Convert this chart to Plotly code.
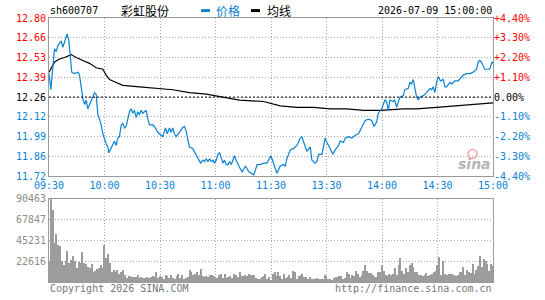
import plotly.graph_objects as go

# ---------------- data ----------------
prev_close = 12.26
stock_code = "sh600707"
stock_name = "彩虹股份"
timestamp = "2026-07-09 15:00:00"

time_ticks = [0, 30, 60, 90, 120, 150, 180, 210, 240]
time_labels = ["09:30", "10:00", "10:30", "11:00", "11:30", "13:30", "14:00", "14:30", "15:00"]

pct_levels = [-4.40, -3.30, -2.20, -1.10, 0.00, 1.10, 2.20, 3.30, 4.40]
price_labels = ["11.72", "11.86", "11.99", "12.12", "12.26", "12.39", "12.53", "12.66", "12.80"]
pct_labels = ["-4.40%", "-3.30%", "-2.20%", "-1.10%", "0.00%", "+1.10%", "+2.20%", "+3.30%", "+4.40%"]

vol_ticks = [22616, 45231, 67847, 90463]
vol_labels = ["22616", "45231", "67847", "90463"]

# minute of session (0 = 09:30, 120 = 11:30/13:00, 240 = 15:00)
price_minutes = [
    0, 1, 2.1, 3.0, 3.9, 4.8, 5.7, 6.6, 7.5, 8.4, 9.3, 9.8, 10.7, 11.4, 12.3, 13.8, 15.6, 16.5,
    17.4, 18.3, 19.2, 20.1, 21.0, 21.9, 22.8, 23.7, 24.6, 25.5, 26.4, 27.3, 28.2, 29.1, 30.0,
    30.9, 31.8, 32.3, 33.1, 34.1, 35.4, 36.3, 37.2, 38.1, 39.0, 39.9, 40.8, 41.7, 42.6, 43.5,
    44.4, 45.3, 46.2, 47.1, 48.0, 48.9, 49.8, 50.7, 51.6, 52.5, 53.4, 54.3, 56.1, 57.0, 58.8,
    60.6, 61.5, 63.0, 63.9, 65.1, 66.0, 66.9, 67.8, 68.7, 69.6, 70.5, 72.0, 73.2, 74.1, 75.0,
    75.9, 77.7, 78.6, 79.5, 81.0, 81.9, 83.2, 84.1, 85.0, 85.9, 86.8, 87.7, 88.6, 89.5, 90.4,
    91.3, 92.2, 93.1, 94.0, 94.9, 95.8, 96.7, 97.6, 98.5, 99.4, 100.3, 101.2, 102.1, 103.0,
    104.4, 106.2, 108.0, 110.7, 112.5, 114.2, 116.0, 117.8, 120.0, 121.4, 123.2, 125.0, 126.8,
    127.7, 128.6, 130.4, 132.2, 134.0, 135.8, 136.7, 137.6, 139.4, 141.2, 142.1, 143.9, 144.8,
    145.7, 147.5, 149.3, 150.2, 152.0, 153.4, 154.7, 156.5, 157.4, 159.2, 160.1, 161.9, 163.7,
    165.5, 167.3, 169.1, 170.9, 172.7, 174.4, 175.7, 177.1, 178.0, 179.8, 181.6, 182.5, 183.4,
    184.3, 186.1, 186.9, 187.9, 188.8, 189.7, 191.5, 192.3, 194.2, 195.1, 196.0, 196.9, 197.8,
    198.7, 199.6, 200.5, 202.3, 204.1, 205.9, 206.8, 207.7, 208.6, 209.5, 210.4, 211.6, 213.1,
    214.0, 214.9, 216.7, 217.6, 219.4, 221.2, 223.9, 225.7, 227.5, 229.3, 231.1, 232.0, 232.8,
    233.7, 235.5, 238.2, 239.5, 240,
]
price_values = [
    12.42, 12.31, 12.47, 12.59, 12.57, 12.61, 12.63, 12.64, 12.60, 12.63, 12.66, 12.69, 12.65,
    12.56, 12.43, 12.42, 12.43, 12.41, 12.32, 12.25, 12.21, 12.24, 12.18, 12.21, 12.24, 12.27,
    12.29, 12.28, 12.14, 12.11, 12.07, 12.01, 11.97, 11.94, 11.92, 11.88, 11.90, 11.93, 11.96,
    11.93, 11.98, 11.99, 12.07, 12.08, 12.05, 12.06, 12.11, 12.16, 12.18, 12.15, 12.17, 12.12,
    12.16, 12.14, 12.17, 12.15, 12.16, 12.17, 12.11, 12.07, 12.07, 12.06, 12.02, 12.00, 11.99,
    12.05, 12.01, 12.05, 12.02, 12.05, 12.01, 11.99, 12.01, 12.02, 12.05, 12.06, 12.03, 11.98,
    11.92, 11.91, 11.89, 11.87, 11.84, 11.81, 11.83, 11.82, 11.84, 11.82, 11.84, 11.82, 11.83,
    11.81, 11.83, 11.87, 11.88, 11.84, 11.81, 11.83, 11.80, 11.80, 11.82, 11.80, 11.83, 11.86,
    11.83, 11.80, 11.78, 11.75, 11.79, 11.75, 11.73, 11.80, 11.80, 11.81, 11.81, 11.86, 11.80,
    11.74, 11.79, 11.80, 11.79, 11.84, 11.90, 11.91, 11.93, 11.98, 11.99, 11.96, 11.89, 11.92,
    11.83, 11.81, 11.82, 11.87, 11.87, 11.98, 11.95, 11.91, 11.87, 11.90, 11.93, 11.96, 11.95,
    11.98, 11.99, 11.98, 12.00, 12.01, 12.06, 12.10, 12.11, 12.10, 12.06, 12.09, 12.15, 12.18,
    12.24, 12.23, 12.17, 12.24, 12.23, 12.24, 12.19, 12.22, 12.26, 12.27, 12.31, 12.32, 12.36,
    12.35, 12.38, 12.32, 12.26, 12.24, 12.26, 12.27, 12.29, 12.32, 12.31, 12.33, 12.29, 12.36,
    12.40, 12.37, 12.38, 12.33, 12.33, 12.36, 12.35, 12.37, 12.37, 12.41, 12.42, 12.42, 12.43,
    12.45, 12.50, 12.51, 12.50, 12.45, 12.45, 12.50, 12.49,
]

avg_minutes = [0, 3.0, 5.7, 8.4, 12.0, 14.7, 18.3, 21.9, 25.5, 29.1, 30.9, 32.7, 36.3, 39.9,
               48.9, 57.9, 66.9, 75.9, 85.0, 94.0, 103.0, 116, 125, 134, 143, 152, 161, 170,
               179, 191.5, 198.7, 209.5, 220.3, 231.1, 240]
avg_values = [12.43, 12.50, 12.52, 12.53, 12.55, 12.53, 12.51, 12.49, 12.46, 12.45, 12.41,
              12.38, 12.36, 12.34, 12.33, 12.32, 12.31, 12.29, 12.28, 12.26, 12.24, 12.23,
              12.20, 12.19, 12.19, 12.18, 12.18, 12.17, 12.17, 12.18, 12.18, 12.19, 12.20,
              12.21, 12.22]

volume = [
    22600, 90400, 79000, 43000, 52000, 40200, 38800, 23300, 18700, 22600,
    33400, 20800, 24100, 28700, 22600, 15100, 22300, 20800, 32300, 20500,
    19700, 16900, 15100, 19700, 10800, 11800, 14400, 15100, 18700, 15100,
    40000,
    25800, 30500, 20800, 10800, 12600, 11500, 13600, 9000, 10800, 13600,
    7900, 4300, 6500, 6500, 5400, 5400, 5400, 7200, 4300, 5400,
    4300, 4700, 5400, 4700, 5400, 6500,
    5000, 11500, 4300, 6800,
    5000, 3600, 7200, 6100, 4300, 7200, 4300, 3600, 6800, 9300, 4300, 7200, 3600, 4300, 5000,
    13300, 10800, 7200, 8600, 10800, 7900, 14000,
    6100, 5700, 6100, 5000, 7900, 7900, 6800, 5000, 4300, 7200,
    8600, 4300, 9300, 4300, 5000, 6100, 4300, 8600, 7200, 5700,
    11500, 6500, 6100, 7900, 6500, 8600, 7200, 7200, 7900, 4300,
    3600, 3600, 5000, 6100, 9300, 3600, 5000, 2500, 9000, 11500,
    6100, 11500, 6100, 3600, 8600, 4300, 5000, 7200, 4300, 12200,
    10800, 3600, 6100, 7200, 8600, 5000, 5000, 3600, 5000, 3600,
    3600, 3600, 4300, 3600, 3600, 3600, 7900, 6500, 3600, 3600,
    2500, 4300, 5000, 5700, 6100, 6100, 3600, 4300, 11500, 9300,
    4300, 7200, 6500, 12200, 9300,
    5000, 7900, 12200, 18700, 12200, 9700, 9700, 7900, 5000, 5700,
    10800, 10800, 18700, 12200, 7900, 6100, 8600, 7900, 9300, 15100,
    7200, 18700, 25800, 12200, 8600, 15100, 11500, 18700, 20500, 16900,
    11500, 10800, 7900, 7900, 6100, 7900, 9700, 6100, 7900, 8600,
    11500, 12200, 18700, 27600, 7900, 23300, 8600, 7200, 8600, 8600,
    9300, 7900, 6100, 7900, 10800, 10800, 16900, 7900, 13300, 11500,
    9700, 20100, 8600,
    12700, 18000, 27900, 16300, 25000, 22800, 19900, 12000, 20000, 18000,
]
vol_minutes = list(range(len(volume)))

# ---------------- styling ----------------
W, H = 545, 300
L, R, T, B = 49, 52, 18, 15
PLOT_W = W - L - R          # 444
PLOT_H = H - T - B          # 267
RED = "#ff0000"
BLUE = "#0a82d2"
GRID = "#a8a8a8"
FRAME = "#9a9a9a"
GRAYTXT = "#8c8c8c"
MONO = "DejaVu Sans Mono"
CJK = "Noto Sans CJK SC"


def px_x(px):
    return (px - L) / PLOT_W


def px_y(py):
    return (H - B - py) / PLOT_H


def colored(text, p):
    c = RED if p > 0 else ("#000000" if p == 0 else BLUE)
    return f'<span style="color:{c}">{text}</span>'


tick_vals = [prev_close * (1 + p / 100) for p in pct_levels]
left_text = [colored(t, p) for t, p in zip(price_labels, pct_levels)]
right_text = [colored(t, p) for t, p in zip(pct_labels, pct_levels)]
eps = 1e-9
yrange = [tick_vals[0] - eps, tick_vals[-1] + eps]

fig = go.Figure()
fig.add_trace(go.Bar(x=vol_minutes, y=volume, xaxis="x2", yaxis="y3", width=0.6,
                     marker=dict(color="#9c9c9c", line=dict(width=0))))
fig.add_trace(go.Scatter(x=avg_minutes, y=avg_values, mode="lines", xaxis="x", yaxis="y",
                         line=dict(color="#000000", width=1.2)))
fig.add_trace(go.Scatter(x=price_minutes, y=price_values, mode="lines", xaxis="x", yaxis="y",
                         line=dict(color=BLUE, width=1.2)))
fig.add_trace(go.Scatter(x=[0], y=[prev_close], mode="markers", xaxis="x", yaxis="y2",
                         marker=dict(opacity=0)))

tickfont = dict(family=MONO, size=10)
fig.update_layout(
    width=W, height=H, margin=dict(l=L, r=R, t=T, b=B),
    paper_bgcolor="white", plot_bgcolor="white", showlegend=False, hovermode=False,
    xaxis=dict(domain=[0, 1], anchor="y", range=[0, 240], tickvals=time_ticks,
               ticktext=time_labels, tickfont=dict(family=MONO, size=10, color=BLUE),
               showgrid=True, gridcolor=GRID, griddash="1px,2px", gridwidth=1,
               showline=True, mirror=True, linecolor=FRAME, linewidth=1, zeroline=False,
               ticks=""),
    yaxis=dict(domain=[107 / PLOT_H, 1], anchor="x", range=yrange, tickvals=tick_vals,
               ticktext=left_text, tickfont=tickfont, showgrid=True, gridcolor=GRID,
               griddash="1px,2px", showline=True, mirror=True, linecolor=FRAME,
               linewidth=1, zeroline=False, ticks=""),
    yaxis2=dict(overlaying="y", side="right", anchor="x", range=yrange, tickvals=tick_vals,
                ticktext=right_text, tickfont=tickfont, showgrid=False, showline=False,
                zeroline=False, ticks=""),
    xaxis2=dict(domain=[0, 1], anchor="y3", range=[0, 240], tickvals=time_ticks,
                showticklabels=False, showgrid=True, gridcolor=GRID, griddash="1px,2px",
                showline=True, mirror=True, linecolor=FRAME, linewidth=1, zeroline=False,
                ticks=""),
    yaxis3=dict(domain=[0, 84 / PLOT_H], anchor="x2", range=[0, vol_ticks[-1] + 1e-6],
                tickvals=vol_ticks, ticktext=vol_labels,
                tickfont=dict(family=MONO, size=10, color=GRAYTXT), showgrid=True,
                gridcolor=GRID, griddash="1px,2px", showline=True, mirror=True,
                linecolor=FRAME, linewidth=1, zeroline=False, ticks=""),
    bargap=0,
)

# previous-close dashed line
fig.add_shape(type="line", xref="paper", x0=0, x1=1, yref="y", y0=prev_close, y1=prev_close,
              line=dict(color="#000000", width=1, dash="2px,2px"))

# legend marks in header
hy0, hy1 = px_y(12), px_y(9)
fig.add_shape(type="rect", xref="paper", yref="paper", x0=px_x(201), x1=px_x(210),
              y0=hy0, y1=hy1, fillcolor=BLUE, line=dict(width=0))
fig.add_shape(type="rect", xref="paper", yref="paper", x0=px_x(251), x1=px_x(260),
              y0=hy0, y1=hy1, fillcolor="#000000", line=dict(width=0))

hy = px_y(10)
ann = [
    dict(text=stock_code, x=px_x(48), xanchor="left", font=dict(family=MONO, size=10, color="#000")),
    dict(text=stock_name, x=px_x(119), xanchor="left", font=dict(family=CJK, size=12, color="#000")),
    dict(text="价格", x=px_x(214), xanchor="left", font=dict(family=CJK, size=12, color=BLUE)),
    dict(text="均线", x=px_x(265), xanchor="left", font=dict(family=CJK, size=12, color="#000")),
    dict(text=timestamp, x=px_x(494), xanchor="right", font=dict(family=MONO, size=10, color="#000")),
]
for a in ann:
    fig.add_annotation(xref="paper", yref="paper", y=hy, yanchor="middle", showarrow=False, **a)

fy = px_y(292)
fig.add_annotation(xref="paper", yref="paper", x=px_x(48), y=fy, xanchor="left", yanchor="middle",
                   text="Copyright 2026 SINA.COM", showarrow=False,
                   font=dict(family=MONO, size=10, color="#777777"))
fig.add_annotation(xref="paper", yref="paper", x=px_x(494), y=fy, xanchor="right", yanchor="middle",
                   text="http://finance.sina.com.cn", showarrow=False,
                   font=dict(family=MONO, size=10, color="#777777"))

# sina watermark
fig.add_annotation(xref="paper", yref="paper", x=px_x(474), y=px_y(166), xanchor="center",
                   yanchor="middle", text="<b><i>sina</i></b>", showarrow=False,
                   font=dict(family="DejaVu Sans", size=14, color="#b5b5b5"))
fig.add_shape(type="circle", xref="paper", yref="paper", x0=px_x(468), x1=px_x(477),
              y0=px_y(160), y1=px_y(151), line=dict(color="#f2a0a0", width=1.5))

fig.write_html("out.html")
